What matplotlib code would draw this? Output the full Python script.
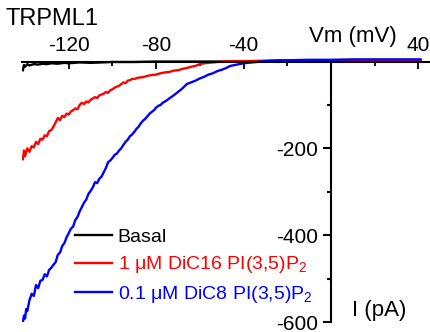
import matplotlib
matplotlib.use("Agg")
import matplotlib.pyplot as plt

plt.rcParams['font.family'] = ['Liberation Sans', 'DejaVu Sans']
plt.rcParams['mathtext.fontset'] = 'custom'
plt.rcParams['mathtext.rm'] = 'Liberation Sans'
plt.rcParams['mathtext.it'] = 'Liberation Sans:italic'
plt.rcParams['axes.unicode_minus'] = False

# Courant basal (pA) en fonction de Vm (mV)
basal_v = [-141, -140.5, -140, -139, -138, -136, -134, -132, -130, -128, -125,
           -122, -120, -115, -110, -100, -90, -80, -60, -40, -20, 0, 20, 41]
basal_i = [-20, -8, -12, -6, -9, -6, -7, -5, -6, -4, -5,
           -3, -4, -2, -3, -1, -1, 0, 0, 0, 0, 1, 1, 1]

# 1 uM DiC16 PI(3,5)P2
red_v = [-141, -140.5, -140, -139, -138, -137, -136, -135, -134, -133, -132,
         -131, -130, -129, -128, -127, -126, -125, -124, -123, -122, -121,
         -120, -119, -118, -117, -116, -115, -114, -113, -112, -111, -110,
         -109, -108, -107, -106, -105, -104, -103, -102, -101, -100, -99,
         -98, -97, -96, -95, -94, -93, -92, -91, -90, -88, -86, -84, -82,
         -80, -78, -76, -74, -72, -70, -68, -66, -64, -62, -60, -58, -56,
         -54, -52, -50, -45, -40, -30, -20, -10, 0, 10, 20, 30, 41]
red_i = [-225, -205, -218, -200, -208, -195, -198, -185, -190, -178, -180,
         -170, -172, -160, -158, -150, -140, -130, -135, -125, -128, -120,
         -122, -115, -112, -108, -110, -100, -95, -98, -92, -94, -88,
         -85, -82, -84, -78, -76, -74, -70, -72, -66, -64, -60,
         -58, -56, -52, -48, -50, -44, -43, -40, -40, -37, -36, -33, -31,
         -30, -27, -25, -24, -21, -20, -17, -15, -12, -10, -6, -4, -3,
         -2, -1, 0, 1, 1, 2, 2, 2, 2, 3, 3, 3, 3]

# 0.1 uM DiC8 PI(3,5)P2
blue_v = [-141, -140.5, -140, -139.5, -139, -138, -137, -136, -135, -134,
          -133, -132, -131, -130, -129, -128, -127, -126, -125, -124, -123,
          -122, -121, -120, -119, -118, -117, -116, -115, -114, -113, -112,
          -111, -110, -109, -108, -107, -106, -105, -104, -103, -102, -101,
          -100, -99, -98, -97, -96, -95, -94, -93, -92, -91, -90, -89, -88,
          -87, -86, -85, -84, -83, -82, -81, -80, -79, -78, -77, -76, -75,
          -74, -72, -70, -68, -66, -64, -62, -60, -58, -56, -54, -52, -50,
          -48, -46, -44, -42, -40, -36, -32, -28, -24, -20, -10, 0, 10, 20,
          30, 41]
blue_i = [-600, -585, -592, -570, -575, -550, -535, -540, -515, -522,
          -505, -503, -490, -495, -480, -475, -468, -462, -445, -440, -425,
          -418, -405, -395, -385, -380, -365, -358, -345, -335, -325, -318,
          -305, -298, -290, -278, -280, -270, -265, -255, -245, -232, -228,
          -222, -215, -212, -205, -200, -192, -185, -180, -172, -168, -162,
          -155, -150, -142, -136, -132, -126, -120, -116, -112, -106, -102,
          -100, -95, -92, -89, -85, -78, -70, -62, -52, -48, -44, -39, -35,
          -30, -27, -22, -19, -15, -10, -8, -6, -4, -2, 0, 2, 3, 3, 4, 4, 5,
          5, 5, 5]

x_ticks = [-120, -80, -40, 0, 40]
x_labels = ['-120', '-80', '-40', '', '40']
y_ticks = [-600, -400, -200]
y_labels = ['-600', '-400', '-200']

fig = plt.figure(figsize=(4.3, 3.32), dpi=100)
ax = fig.add_axes([0.0512, 0.0301, 0.9465, 0.7976])

ax.plot(basal_v, basal_i, color='black', lw=1.7, label='Basal')
ax.plot(red_v, red_i, color='#ff0000', lw=1.7, label='1 μM DiC16 PI(3,5)P$_2$')
ax.plot(blue_v, blue_i, color='#0000ff', lw=1.7, label='0.1 μM DiC8 PI(3,5)P$_2$')

ax.set_xlim(-141.4, 44.9)
ax.set_ylim(-600, 10)

# axes croisés à l'origine
ax.spines['right'].set_visible(False)
ax.spines['bottom'].set_visible(False)
ax.spines['top'].set_position(('data', 0))
ax.spines['left'].set_position(('data', 0))
ax.spines['left'].set_bounds(-600, 0)
for s in ['top', 'left']:
    ax.spines[s].set_linewidth(1.5)

ax.xaxis.set_ticks_position('top')
ax.set_xticks(x_ticks)
ax.set_xticklabels(x_labels)
ax.set_xticks([-100, -60, -20, 20], minor=True)
ax.tick_params(axis='x', which='major', direction='in', length=5, width=1.3,
               labelsize=15, pad=5)
ax.tick_params(axis='x', which='minor', direction='in', length=3, width=1.3)

ax.set_yticks(y_ticks)
ax.set_yticklabels(y_labels)
ax.set_yticks([-500, -300, -100], minor=True)
ax.tick_params(axis='y', which='major', direction='out', length=6, width=1.5,
               labelsize=15, pad=3)
ax.tick_params(axis='y', which='minor', direction='out', length=3, width=1.5)

fig.text(0.012, 0.943, 'TRPML1', fontsize=17, va='center', ha='left')
fig.text(0.821, 0.889, 'Vm (mV)', fontsize=16, va='center', ha='center')
fig.text(0.881, 0.066, 'I (pA)', fontsize=16, va='center', ha='center')

ax.legend(loc='upper left', bbox_to_anchor=(0.174, 0.313),
          bbox_transform=fig.transFigure, frameon=False, fontsize=14,
          handlelength=1.9, handletextpad=0.3, labelspacing=0.45,
          borderpad=0, borderaxespad=0, labelcolor='linecolor')

fig.savefig('out.png', dpi=100)
